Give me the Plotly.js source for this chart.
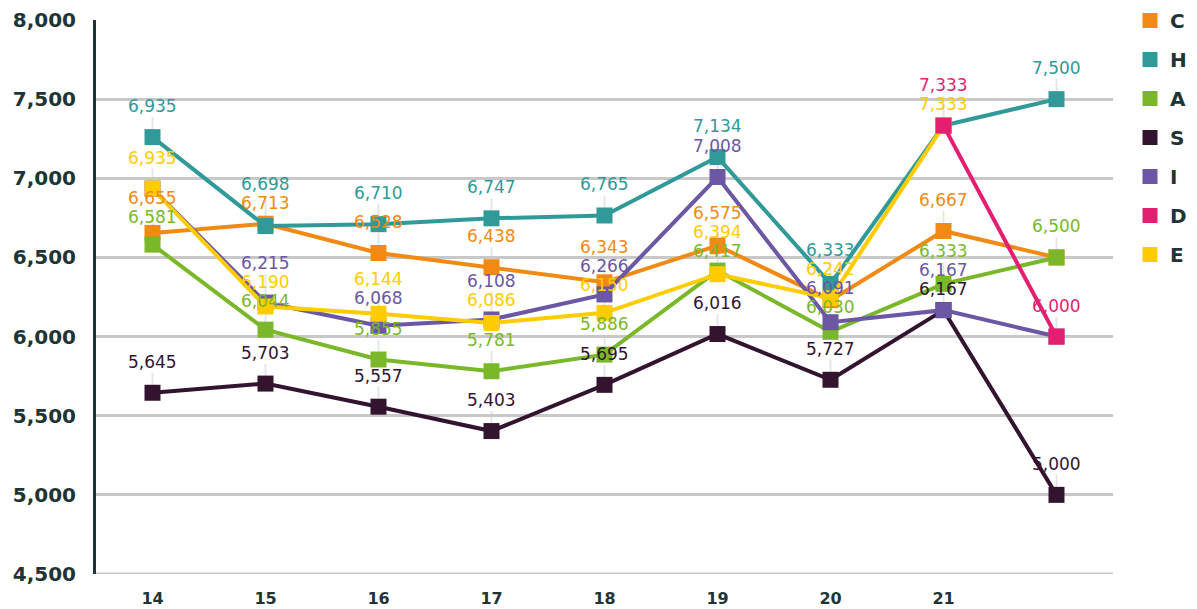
<!DOCTYPE html>
<html><head><meta charset="utf-8">
<script src="https://cdn.plot.ly/plotly-3.0.1.min.js"></script>
<style>html,body{margin:0;padding:0;background:#fff}#chart{width:1197px;height:609px}</style>
</head><body><div id="chart"></div>
<script>
// ---- data ----
const xCats = [14, 15, 16, 17, 18, 19, 20, 21, 22];
const xTickLabels = ['14', '15', '16', '17', '18', '19', '20', '21', ''];
const yTicks = [4500, 5000, 5500, 6000, 6500, 7000, 7500, 8000];
const seriesNames = ['C', 'H', 'A', 'S', 'I', 'D', 'E'];

const C_vals = [6655, 6713, 6528, 6438, 6343, 6575, 6230, 6667, 6500];
const C_lbls = [6655, 6713, 6528, 6438, 6343, 6575, null, 6667, null];
const H_vals = [7260, 6698, 6710, 6747, 6765, 7134, 6333, 7333, 7500];
const H_lbls = [6935, 6698, 6710, 6747, 6765, 7134, 6333, null, 7500];
const A_vals = [6581, 6044, 5855, 5781, 5886, 6417, 6030, 6333, 6500];
const A_lbls = [6581, 6044, 5855, 5781, 5886, 6417, 6030, 6333, 6500];
const S_vals = [5645, 5703, 5557, 5403, 5695, 6016, 5727, 6167, 5000];
const S_lbls = [5645, 5703, 5557, 5403, 5695, 6016, 5727, 6167, 5000];
const I_vals = [6935, 6215, 6068, 6108, 6266, 7008, 6091, 6167, 6000];
const I_lbls = [null, 6215, 6068, 6108, 6266, 7008, 6091, 6167, null];
const D_vals = [null, null, null, null, null, null, null, 7333, 6000];
const D_lbls = [null, null, null, null, null, null, null, 7333, 6000];
const E_vals = [6935, 6190, 6144, 6086, 6150, 6394, 6242, 7333, null];
const E_lbls = [6935, 6190, 6144, 6086, 6150, 6394, 6242, 7333, null];

const colors = {C:'#F18A13', H:'#2F9A98', A:'#7AB82A', S:'#33142F', I:'#6B57A3', D:'#E41F72', E:'#FFCC00'};
const vals = {C:C_vals, H:H_vals, A:A_vals, S:S_vals, I:I_vals, D:D_vals, E:E_vals};
const lbls = {C:C_lbls, H:H_lbls, A:A_lbls, S:S_lbls, I:I_lbls, D:D_lbls, E:E_lbls};
const drawOrder = ['C', 'H', 'A', 'S', 'I', 'E', 'D'];

// ---- layout geometry ----
const W = 1197, H = 609;
const M = {l: 96, r: 84, t: 20, b: 35};
const yMin = 4500, yMax = 8000;
const pxPerUnit = (H - M.t - M.b) / (yMax - yMin);
const dark = '#1F3535';
const fmt = v => v.toLocaleString('en-US');

const traces = [];
drawOrder.forEach(n => {
  traces.push({
    type: 'scatter', mode: 'lines+markers', x: xCats, y: vals[n], name: n,
    showlegend: false, hoverinfo: 'skip', cliponaxis: false,
    line: {color: colors[n], width: 4},
    marker: {symbol: 'square', size: 16, color: colors[n]}
  });
});
seriesNames.forEach((n, i) => {
  traces.push({
    type: 'scatter', mode: 'markers', x: [null], y: [null], name: n,
    legendgroup: 'g' + i, showlegend: true,
    marker: {symbol: 'square', size: 15, color: colors[n]}
  });
});

// labels with simple collision avoidance, computed in pixel space
const annotations = [];
const shapes = [{type: 'line', layer: 'below', xref: 'paper', yref: 'y', x0: 0, x1: 1, y0: yMin, y1: yMin,
  line: {color: '#C8C8C8', width: 3}}];
const OFF = 31, GAP = 19, SWAP = 10;
const prio = ['H', 'D', 'I', 'E', 'A', 'S', 'C'];
xCats.forEach((x, xi) => {
  const items = [];
  drawOrder.forEach(n => {
    const lv = lbls[n][xi], v = vals[n][xi];
    if (lv == null || v == null) return;
    const mpx = (yMax - v) * pxPerUnit;
    items.push({n, lv, v, mpx, lpx: mpx - OFF});
  });
  items.sort((a, b) => (a.lpx - b.lpx) || (prio.indexOf(a.n) - prio.indexOf(b.n)));
  for (let k = 1; k < items.length; k++) {
    const a = items[k - 1], b = items[k];
    if (b.lpx - a.lpx < SWAP && prio.indexOf(b.n) < prio.indexOf(a.n)) {
      items[k - 1] = b; items[k] = a;
    }
  }
  // order is now fixed; spread labels so neighbours keep a minimum gap
  for (let it = 0; it < 200; it++) {
    for (let k = 1; k < items.length; k++) {
      const d = items[k].lpx - items[k - 1].lpx;
      if (d < GAP) {
        const s = (GAP - d) / 2;
        items[k - 1].lpx -= s;
        items[k].lpx += s;
      }
    }
  }
  items.forEach(it => {
    const ly = yMax - it.lpx / pxPerUnit;
    const top = it.lpx + 11, bot = it.mpx - 8;
    if (bot > top) {
      shapes.push({type: 'line', layer: 'below', xref: 'x', yref: 'y', x0: x, x1: x,
        y0: yMax - top / pxPerUnit, y1: yMax - bot / pxPerUnit,
        line: {color: '#E6E6E6', width: 2}});
    }
    annotations.push({x: x, y: ly, xref: 'x', yref: 'y', text: fmt(it.lv), showarrow: false,
      font: {family: 'DejaVu Sans', size: 17, color: colors[it.n]}, xanchor: 'center', yanchor: 'middle'});
  });
});

const layout = {
  width: W, height: H, margin: M,
  paper_bgcolor: '#fff', plot_bgcolor: '#fff',
  showlegend: true,
  legend: {xref: 'container', yref: 'container', x: 1130 / W, y: 1 - 1 / H, xanchor: 'left', yanchor: 'top',
    traceorder: 'grouped', tracegroupgap: 10, itemsizing: 'trace',
    font: {family: 'DejaVu Sans', size: 20, color: dark, weight: 'bold'}, bgcolor: 'rgba(0,0,0,0)'},
  xaxis: {range: [13.5, 22.5], tickvals: xCats, ticktext: xTickLabels, showgrid: false, zeroline: false,
    showline: false, ticks: '', ticklabelstandoff: 13,
    tickfont: {family: 'DejaVu Sans', size: 16, color: dark, weight: 'bold'}},
  yaxis: {range: [yMin, yMax], tickvals: yTicks, ticktext: yTicks.map(fmt), showgrid: true,
    gridcolor: '#C8C8C8', gridwidth: 3, zeroline: false, showline: true, linecolor: dark, linewidth: 3,
    ticks: '', ticklabelstandoff: 13,
    tickfont: {family: 'DejaVu Sans', size: 20, color: dark, weight: 'bold'}},
  annotations: annotations, shapes: shapes
};
Plotly.newPlot('chart', traces, layout, {staticPlot: true, displayModeBar: false});
</script></body></html>
